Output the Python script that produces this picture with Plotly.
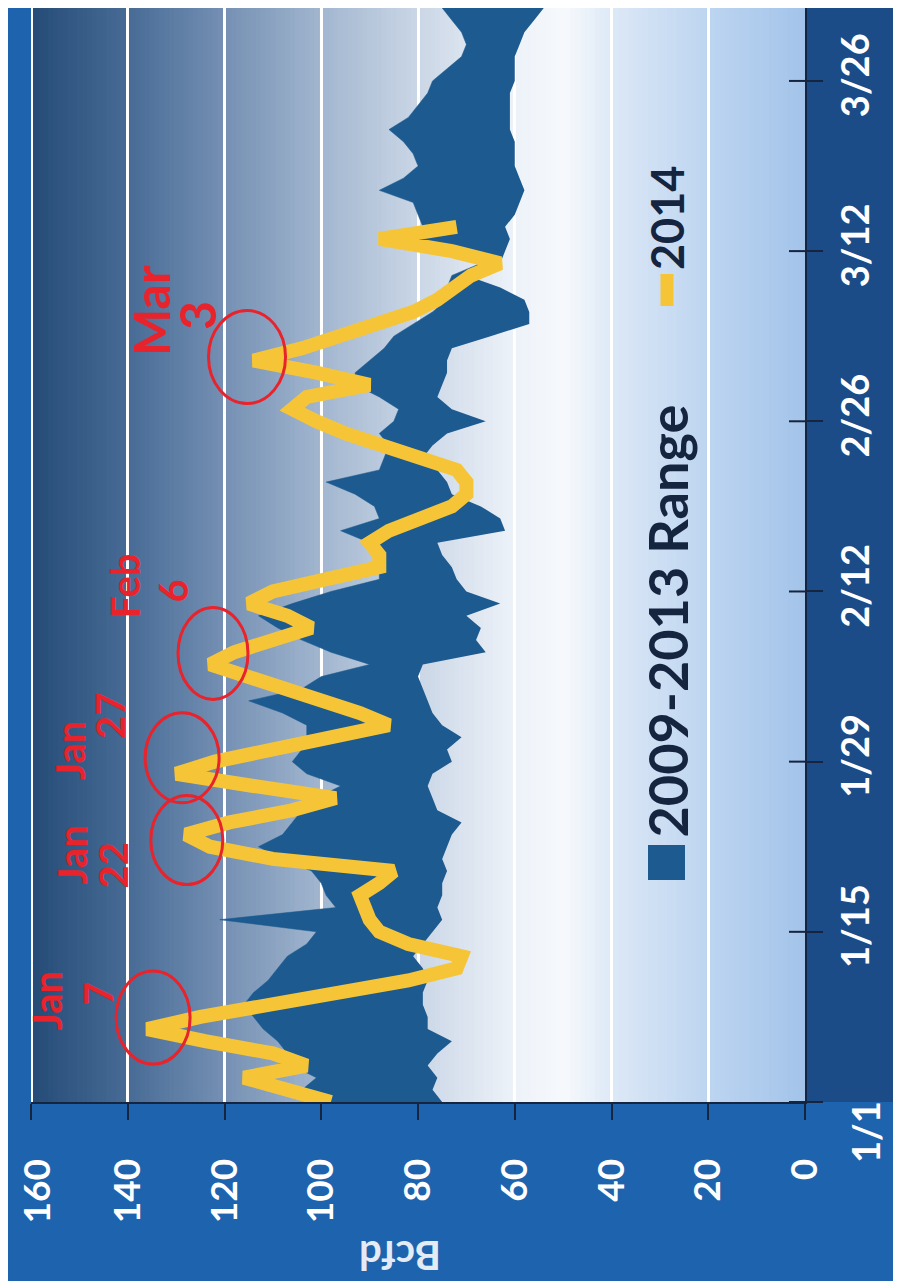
import pandas as pd
import plotly.graph_objects as go

# daily values, Bcfd, starting Jan 1 2014
dates = pd.date_range("2014-01-01", periods=91, freq="D")

range_max = [
    100, 104, 101, 106, 107, 109, 112, 114, 116, 114,
    111, 109, 107, 103, 101, 121, 97, 99, 100, 102,
    108, 113, 108, 106, 104, 101, 96, 103, 106, 104,
    103, 103, 108, 115, 104, 100, 90, 98, 104, 109,
    113, 106, 98, 88, 88, 89, 90, 96, 88, 89,
    93, 99, 88, 87, 86, 88, 85, 84, 88, 93,
    93, 90, 87, 85, 81, 77, 74, 74, 73, 67,
    76, 80, 79, 80, 81, 88, 83, 80, 81, 83,
    86, 82, 80, 78, 77, 74, 71, 70, 71, 73, 75,
]
range_min = [
    75, 77, 76, 78, 76, 73, 78, 78, 79, 79,
    78, 79, 81, 79, 77, 75, 76, 75, 75, 74,
    75, 74, 73, 71, 76, 77, 78, 77, 73, 74,
    71, 75, 77, 78, 79, 80, 79, 66, 68, 67,
    70, 63, 70, 72, 73, 75, 76, 62, 63, 67,
    73, 74, 76, 79, 77, 74, 66, 73, 76, 75,
    74, 74, 73, 65, 57, 57, 58, 63, 70, 63,
    62, 61, 62, 60, 59, 58, 59, 60, 60, 60,
    61, 61, 61, 61, 60, 60, 60, 59, 58, 56, 54,
]
demand_2014 = [
    98, 106, 116, 103, 110, 124, 136, 125, 110, 96,
    82, 72, 71, 82, 88, 90, 91, 92, 88, 85,
    110, 123, 128, 119, 106, 97, 114, 130, 122, 110,
    98, 86, 92, 100, 108, 116, 123, 118, 110, 102,
    107, 115, 110, 98, 88, 88, 90, 86, 80, 73,
    70, 70, 72, 80, 88, 95, 101, 106, 103, 90,
    101, 114, 104, 96, 90, 81, 76, 72, 69, 63,
    73, 88, 72,
]

value_ticks = [0, 20, 40, 60, 80, 100, 120, 140, 160]
date_ticks = ["2014-01-01", "2014-01-15", "2014-01-29", "2014-02-12",
              "2014-02-26", "2014-03-12", "2014-03-26"]
date_tick_text = ["1/1", "1/15", "1/29", "2/12", "2/26", "3/12", "3/26"]

peak_month = ["Jan", "Jan", "Jan", "Feb", "Mar"]
peak_day = ["7", "22", "27", "6", "3"]
peak_idx = [6, 22, 27, 36, 61]

# page geometry (reference pixels; the page body adds an 8px offset)
W, H = 901, 1281
OFF = 8
L, R, T, B = 23, 104, 0, 187
FONT = "Lato, 'Open Sans', sans-serif"
NAVY = "#15243f"
RED = "#e8232b"
YELLOW = "#f6c537"
BAND = "#1c5a8f"


def px_x(px):
    return (px - OFF - L) / (W - L - R)


def px_y(py):
    return (H - B - (py - OFF)) / (H - T - B)


def mix(c1, c2, t):
    a = [int(c1[i:i + 2], 16) for i in (1, 3, 5)]
    b = [int(c2[i:i + 2], 16) for i in (1, 3, 5)]
    return "rgb(%d,%d,%d)" % tuple(round(a[k] + (b[k] - a[k]) * t) for k in range(3))


# plot-area background gradient (value -> colour)
stops = [(0, "#a3c3ea"), (20, "#bcd4f0"), (40, "#dce8f6"), (50, "#f6f9fc"),
         (60, "#eef3f9"), (80, "#cbd7e7"), (100, "#a3b7d0"), (120, "#7691b4"),
         (140, "#486c96"), (160, "#254c77")]

shapes = [
    dict(type="rect", xref="paper", yref="paper", x0=1, x1=px_x(W + 20),
         y0=0, y1=px_y(-20), fillcolor="#1b4c88", line_width=0, layer="below"),
]
for v in range(160):
    mid = v + 0.5
    for (v0, c0), (v1, c1) in zip(stops[:-1], stops[1:]):
        if v0 <= mid <= v1:
            col = mix(c0, c1, (mid - v0) / (v1 - v0))
            break
    shapes.append(dict(type="rect", xref="x", yref="paper", x0=max(v - 0.5, 0),
                       x1=min(v + 1.5, 160), y0=0, y1=1, fillcolor=col, line_width=0,
                       layer="below"))
# grid line on the 160 edge
shapes.append(dict(type="line", xref="x", yref="paper", x0=160, x1=160, y0=0, y1=1,
                   line=dict(color="white", width=4)))

# inner half of the date-axis ticks
for d in date_ticks:
    shapes.append(dict(type="line", xref="x", yref="y", xsizemode="pixel", xanchor=0,
                       x0=-16, x1=0, y0=d, y1=d, line=dict(color=NAVY, width=2)))

fig = go.Figure()
fig.add_trace(go.Scatter(x=range_min, y=dates, mode="lines", line=dict(width=0, color=BAND),
                         showlegend=False, hoverinfo="skip"))
fig.add_trace(go.Scatter(x=range_max, y=dates, mode="lines", line=dict(width=0.5, color=BAND),
                         fill="tonextx", fillcolor=BAND, name="2009-2013 Range",
                         showlegend=False))
fig.add_trace(go.Scatter(x=demand_2014, y=dates[:len(demand_2014)], mode="lines",
                         line=dict(width=14, color=YELLOW), name="2014", showlegend=False))

# red circles and labels on the 2014 peaks
ring_offsets = [(-31, 43, -35, 58), (-35, 37, -50, 39), (-31, 43, -29, 61),
                (-32, 38, -35, 57), (-45, 32, -43, 50)]
month_shifts = [(-100, 28), (-114, -20), (-106, 23), (-85, 79), (-103, 50)]
day_shifts = [(-49, 35), (-73, -31), (-66, 58), (-37, 74), (-57, 45)]
label_sizes = [40, 40, 40, 40, 50]
annotations = []
for k, i in enumerate(peak_idx):
    px0, px1, py0, py1 = ring_offsets[k]
    shapes.append(dict(type="circle", xref="x", yref="y", xsizemode="pixel", ysizemode="pixel",
                       xanchor=demand_2014[i], yanchor=dates[i], x0=px0, x1=px1, y0=py0, y1=py1,
                       line=dict(color=RED, width=3)))
    for txt, sh in ((peak_month[k], month_shifts[k]), (peak_day[k], day_shifts[k])):
        annotations.append(dict(x=demand_2014[i], y=dates[i], xref="x", yref="y", text=txt,
                                showarrow=False, textangle=-90, xshift=sh[0], yshift=sh[1],
                                xanchor="center", yanchor="middle",
                                font=dict(family=FONT, size=label_sizes[k], color=RED,
                                          weight="bold")))

# hand-made legend (rotated like the rest of the slide)
shapes.append(dict(type="rect", xref="paper", yref="paper", x0=px_x(648), x1=px_x(685),
                   y0=px_y(880), y1=px_y(845), fillcolor=BAND, line_width=0))
shapes.append(dict(type="line", xref="paper", yref="paper", x0=px_x(667), x1=px_x(667),
                   y0=px_y(306), y1=px_y(274), line=dict(color=YELLOW, width=13)))
annotations.append(dict(x=px_x(667), y=px_y(840), xref="paper", yref="paper",
                        text="2009-2013 Range", showarrow=False, textangle=-90,
                        xanchor="center", yanchor="bottom",
                        font=dict(family=FONT, size=54, color=NAVY, weight="bold")))
annotations.append(dict(x=px_x(667), y=px_y(272), xref="paper", yref="paper",
                        text="2014", showarrow=False, textangle=-90,
                        xanchor="center", yanchor="bottom",
                        font=dict(family=FONT, size=45, color=NAVY, weight="bold")))
# edge labels placed by hand: 160 hugs the left border, 1/1 sits below its tick
annotations.append(dict(x=px_x(10), y=px_y(1158), xref="paper", yref="paper",
                        text=str(value_ticks[-1]), showarrow=False, textangle=-90,
                        xanchor="left", yanchor="top",
                        font=dict(family=FONT, size=37, color="white", weight="bold")))
annotations.append(dict(x=px_x(865), y=px_y(1132), xref="paper", yref="paper",
                        text=date_tick_text[0], showarrow=False, textangle=-90,
                        xanchor="center", yanchor="middle",
                        font=dict(family=FONT, size=38, color="white", weight="bold")))
# axis title, upside down as on the scanned slide
annotations.append(dict(x=px_x(400), y=px_y(1256), xref="paper", yref="paper",
                        text="Bcfd", showarrow=False, textangle=180,
                        xanchor="center", yanchor="middle",
                        font=dict(family=FONT, size=40, color="#e4ebf4", weight="bold")))

fig.update_layout(
    width=W, height=H,
    margin=dict(l=L, r=R, t=T, b=B, autoexpand=False),
    paper_bgcolor="#1e63ad",
    plot_bgcolor="#d8e4f2",
    font=dict(family=FONT, color="white"),
    shapes=shapes,
    annotations=annotations,
    xaxis=dict(range=[160, 0], tickvals=value_ticks,
               ticktext=[str(v) for v in value_ticks[:-1]] + [""],
               tickangle=-90, tickfont=dict(size=37, color="white", weight="bold"),
               showgrid=True, gridcolor="white", gridwidth=3, zeroline=False,
               showline=True, linecolor=NAVY, linewidth=2,
               ticks="outside", ticklen=16, tickcolor=NAVY, tickwidth=2,
               ticklabelstandoff=24, ticklabeloverflow="allow"),
    yaxis=dict(range=["2014-01-01", "2014-04-01"], side="right", tickvals=date_ticks,
               ticktext=[""] + date_tick_text[1:], tickangle=-90,
               tickfont=dict(size=38, color="white", weight="bold"),
               showgrid=False, zeroline=False, showline=True, linecolor=NAVY, linewidth=2,
               ticks="outside", ticklen=16, tickcolor=NAVY, tickwidth=2,
               ticklabelstandoff=0, ticklabeloverflow="allow"),
    showlegend=False,
)

fig.write_html("out.html")
